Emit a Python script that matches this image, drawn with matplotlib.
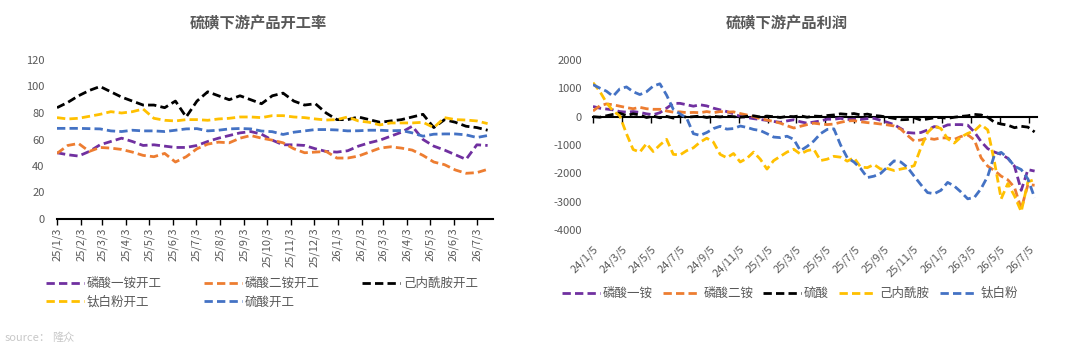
import matplotlib
matplotlib.use('Agg')
import matplotlib.pyplot as plt
import matplotlib.dates as mdates
import matplotlib.ticker as mticker
import pandas as pd

plt.rcParams['font.family'] = ['Noto Sans CJK SC', 'DejaVu Sans']
plt.rcParams['axes.unicode_minus'] = False

# ---------------- data: left chart (开工率, biweekly) ----------------
dates_left = pd.date_range('2025-01-03', periods=41, freq='14D')
left_names = ['磷酸一铵开工', '磷酸二铵开工', '己内酰胺开工', '钛白粉开工', '硫酸开工']
map_rate = [50, 48.5, 47.5, 51, 56, 58.5, 61, 58.5, 55.5, 56, 55, 54, 54, 55.5, 58.5, 61, 63, 65, 66, 64,
            59.5, 56, 56, 55.5, 53, 51, 50.5, 51.5, 55, 57.5, 59.5, 62.5, 65.5, 70, 60, 55, 52, 48.5, 45, 56, 55.5]
dap_rate = [49.5, 55.5, 57, 51, 54, 53.5, 52.5, 50.5, 48, 47, 49.5, 43, 47, 53, 56.5, 58, 57.5, 61, 63, 61,
            59.5, 57.5, 53, 50, 50.5, 51, 46, 46, 47.5, 50.5, 53.5, 54.5, 53.5, 52, 48, 43, 41, 37, 34.5, 35, 37.5]
cpl_rate = [84, 88, 93, 97, 100, 96, 92, 89, 86, 86, 84, 89, 77, 89, 96, 93, 90, 93, 90, 87,
            93, 95, 89, 86, 87, 80, 75, 75, 77, 75, 73, 74, 75, 77, 79, 69, 75, 73, 70, 69, 67]
tio2_rate = [76.5, 75.5, 76, 77.5, 79, 81, 80, 81, 83, 76, 74.5, 74, 75, 75, 74.5, 75.5, 76, 77, 77, 76.5,
             78, 78, 77, 76.5, 75.5, 74.7, 75, 77, 74, 73, 71, 72.5, 72.5, 72.5, 73, 69, 76.5, 75, 74.7, 74, 72]
h2so4_rate = [68.4, 68.4, 68.4, 68.2, 68, 66.5, 66, 67, 66.5, 66.5, 66, 67, 68, 68.2, 66.5, 67, 68, 68.3, 68, 66.4,
              65.9, 63.8, 65.5, 66.5, 67.5, 67.5, 67.2, 66.5, 66.6, 67, 67, 66.6, 66.8, 65, 62.5, 64, 64.2, 64.2, 63.5, 61.5, 63]

# ---------------- data: right chart (利润, biweekly) ----------------
dates_right = pd.date_range('2024-01-05', periods=67, freq='14D')
right_names = ['磷酸一铵', '磷酸二铵', '硫酸', '己内酰胺', '钛白粉']
map_profit = [360, 300, 270, 240, 180, 160, 180, 150, 100, 70, 140, 300, 470, 470, 420, 370, 420, 380, 300, 240, 180, 100,
              10, -30, -70, -100, -130, -170, -200, -150, -110, -180, -230, -190, -150, -90, -90, -60, -100, -90, -100, -70, -60, -130,
              -200, -280, -420, -560, -580, -560, -470, -350, -390, -290, -280, -280, -300, -540, -880, -1130, -1250, -1330, -1470,
              -1750, -2600, -1870, -1920]
dap_profit = [200, 380, 450, 420, 370, 320, 280, 330, 280, 260, 260, 200, 160, 170, 140, 150, 140, 180, 140, 180, 160, 170,
              110, 60, 0, -70, -120, -170, -230, -320, -400, -340, -280, -230, -260, -280, -260, -200, -150, -140, -180, -210, -230, -260,
              -290, -330, -440, -660, -860, -820, -760, -800, -750, -750, -800, -700, -640, -820, -1450, -1750, -1900, -2100, -2230,
              -2500, -3250, -2400, -2420]
h2so4_profit = [0, -20, 30, 80, 120, 40, 100, 60, -30, 20, -40, 10, -50, 30, -20, 0, 20, -30, 10, -10, 20, 0,
                -20, 10, 30, -10, 20, 0, -30, 10, 0, 30, -20, 20, 10, 40, 60, 100, 80, 110, 60, 90, 40, 20,
                -20, -60, -110, -100, -40, -120, -80, -40, -30, -60, -20, 10, 30, 80, 60, -20, -200, -260, -300,
                -390, -340, -370, -540]
cpl_profit = [1200, 900, 500, 200, 30, -600, -1160, -1250, -950, -1230, -1000, -800, -1330, -1350, -1200, -1100, -900, -760, -900, -1330, -1450, -1300,
              -1600, -1470, -1250, -1500, -1850, -1550, -1400, -1250, -1150, -1320, -1200, -1150, -1550, -1500, -1400, -1430, -1570, -1450, -1780, -1800, -1690, -1850,
              -1830, -1900, -1850, -1800, -1730, -1100, -560, -330, -420, -780, -930, -720, -590, -500, -280, -470, -1600, -2900, -2360,
              -2800, -3350, -2300, -2220]
tio2_profit = [1130, 1010, 900, 720, 980, 1050, 880, 780, 880, 1080, 1160, 760, 260, 100, -50, -600, -660, -560, -420, -340, -440, -420,
               -330, -380, -450, -490, -600, -720, -740, -690, -800, -1200, -1050, -860, -600, -450, -430, -1000, -1450, -1600, -1830, -2150, -2100, -2000,
               -1780, -1560, -1600, -1790, -2100, -2400, -2680, -2720, -2600, -2320, -2450, -2660, -2900, -2850, -2540, -2100, -1350, -1260, -1460,
               -1750, -1867, -2200, -2864]

colors = ['#7030A0', '#ED7D31', '#000000', '#FFC000', '#4472C4']
GRAY = '#595959'

fig = plt.figure(figsize=(10.8, 3.61), dpi=100)
W, H = 1080, 361
ax1 = fig.add_axes([57 / W, 1 - 219 / H, (493 - 57) / W, (219 - 60) / H])
ax2 = fig.add_axes([593 / W, 1 - 230 / H, (1037 - 593) / W, (230 - 60) / H])


def fmt_date(x, pos=None):
    d = mdates.num2date(x)
    return f"{d.year % 100}/{d.month}/{d.day}"


# ---------------- left chart ----------------
left_series = [map_rate, dap_rate, cpl_rate, tio2_rate, h2so4_rate]
lines1 = []
for name, vals, c in zip(left_names, left_series, colors):
    ln, = ax1.plot(dates_left, vals, color=c, lw=2.0, dashes=(3, 1.5), label=name)
    lines1.append(ln)
ax1.set_ylim(0, 120)
ax1.set_yticks(range(0, 121, 20))
ax1.set_xlim(pd.Timestamp('2025-01-03'), pd.Timestamp('2026-07-24'))
ax1.xaxis.set_major_locator(mdates.MonthLocator(bymonthday=3))
ax1.xaxis.set_major_formatter(mticker.FuncFormatter(fmt_date))
for s in ['top', 'right', 'left']:
    ax1.spines[s].set_visible(False)
ax1.spines['bottom'].set_color('black')
ax1.spines['bottom'].set_linewidth(1.5)
ax1.tick_params(axis='y', length=0, pad=9, labelsize=8, labelcolor=GRAY)
ax1.tick_params(axis='x', direction='out', length=4, width=1, color='black', pad=2,
                labelsize=8, labelcolor=GRAY, labelrotation=90)
ax1.set_facecolor('none')

order = [0, 3, 1, 4, 2]
leg1 = fig.legend([lines1[i] for i in order], [left_names[i] for i in order], ncol=3,
                  loc='upper left', bbox_to_anchor=(46 / W, 1 - 277 / H), frameon=False,
                  fontsize=9, handlelength=3.0, handletextpad=0.25, columnspacing=3.4,
                  labelspacing=0.45, borderpad=0, borderaxespad=0, labelcolor=GRAY)

fig.text(258 / W, 1 - 23 / H, '硫磺下游产品开工率', ha='center', va='center',
         fontsize=11, fontweight='bold', color=GRAY)

# ---------------- right chart ----------------
right_series = [map_profit, dap_profit, h2so4_profit, cpl_profit, tio2_profit]
lines2 = []
for name, vals, c in zip(right_names, right_series, colors):
    ln, = ax2.plot(dates_right, vals, color=c, lw=2.0, dashes=(3, 1.5), label=name)
    lines2.append(ln)
ax2.set_ylim(-4000, 2000)
ax2.set_yticks(range(-4000, 2001, 1000))
ax2.set_xlim(pd.Timestamp('2024-01-05'), pd.Timestamp('2026-07-22'))
loc2 = mdates.MonthLocator(bymonth=[1, 3, 5, 7, 9, 11], bymonthday=5)
ax2.xaxis.set_major_locator(loc2)
ax2.xaxis.set_major_formatter(mticker.FuncFormatter(fmt_date))
for s in ['top', 'right', 'left', 'bottom']:
    ax2.spines[s].set_visible(False)
ax2.tick_params(axis='y', length=0, pad=8, labelsize=8, labelcolor=GRAY)
ax2.tick_params(axis='x', length=0, pad=10, labelsize=8, labelcolor=GRAY)
for lab in ax2.get_xticklabels():
    lab.set_rotation(45)
    lab.set_ha('right')
    lab.set_va('top')
    lab.set_rotation_mode('anchor')
ax2.set_facecolor('none')

sec = ax2.secondary_xaxis(0, transform=ax2.transData)
sec.xaxis.set_major_locator(mdates.MonthLocator(bymonth=[1, 3, 5, 7, 9, 11], bymonthday=5))
sec.tick_params(axis='x', direction='out', length=4, width=1, color='black', labelbottom=False)
sec.spines['bottom'].set_color('black')
sec.spines['bottom'].set_linewidth(1.5)

leg2 = fig.legend(lines2, right_names, ncol=5, loc='upper left',
                  bbox_to_anchor=(562 / W, 1 - 287 / H), frameon=False,
                  fontsize=9, handlelength=3.0, handletextpad=0.25, columnspacing=0.8,
                  borderpad=0, borderaxespad=0, labelcolor=GRAY)

fig.text(787 / W, 1 - 23 / H, '硫磺下游产品利润', ha='center', va='center',
         fontsize=11, fontweight='bold', color=GRAY)

# ---------------- source ----------------
fig.text(5 / W, 1 - 338 / H, 'source：', ha='left', va='center', fontsize=8, color='#C8C8C8')
fig.text(52 / W, 1 - 338 / H, '隆众', ha='left', va='center', fontsize=8, color='#C8C8C8',
         style='italic')

fig.savefig('out.png', dpi=100)
